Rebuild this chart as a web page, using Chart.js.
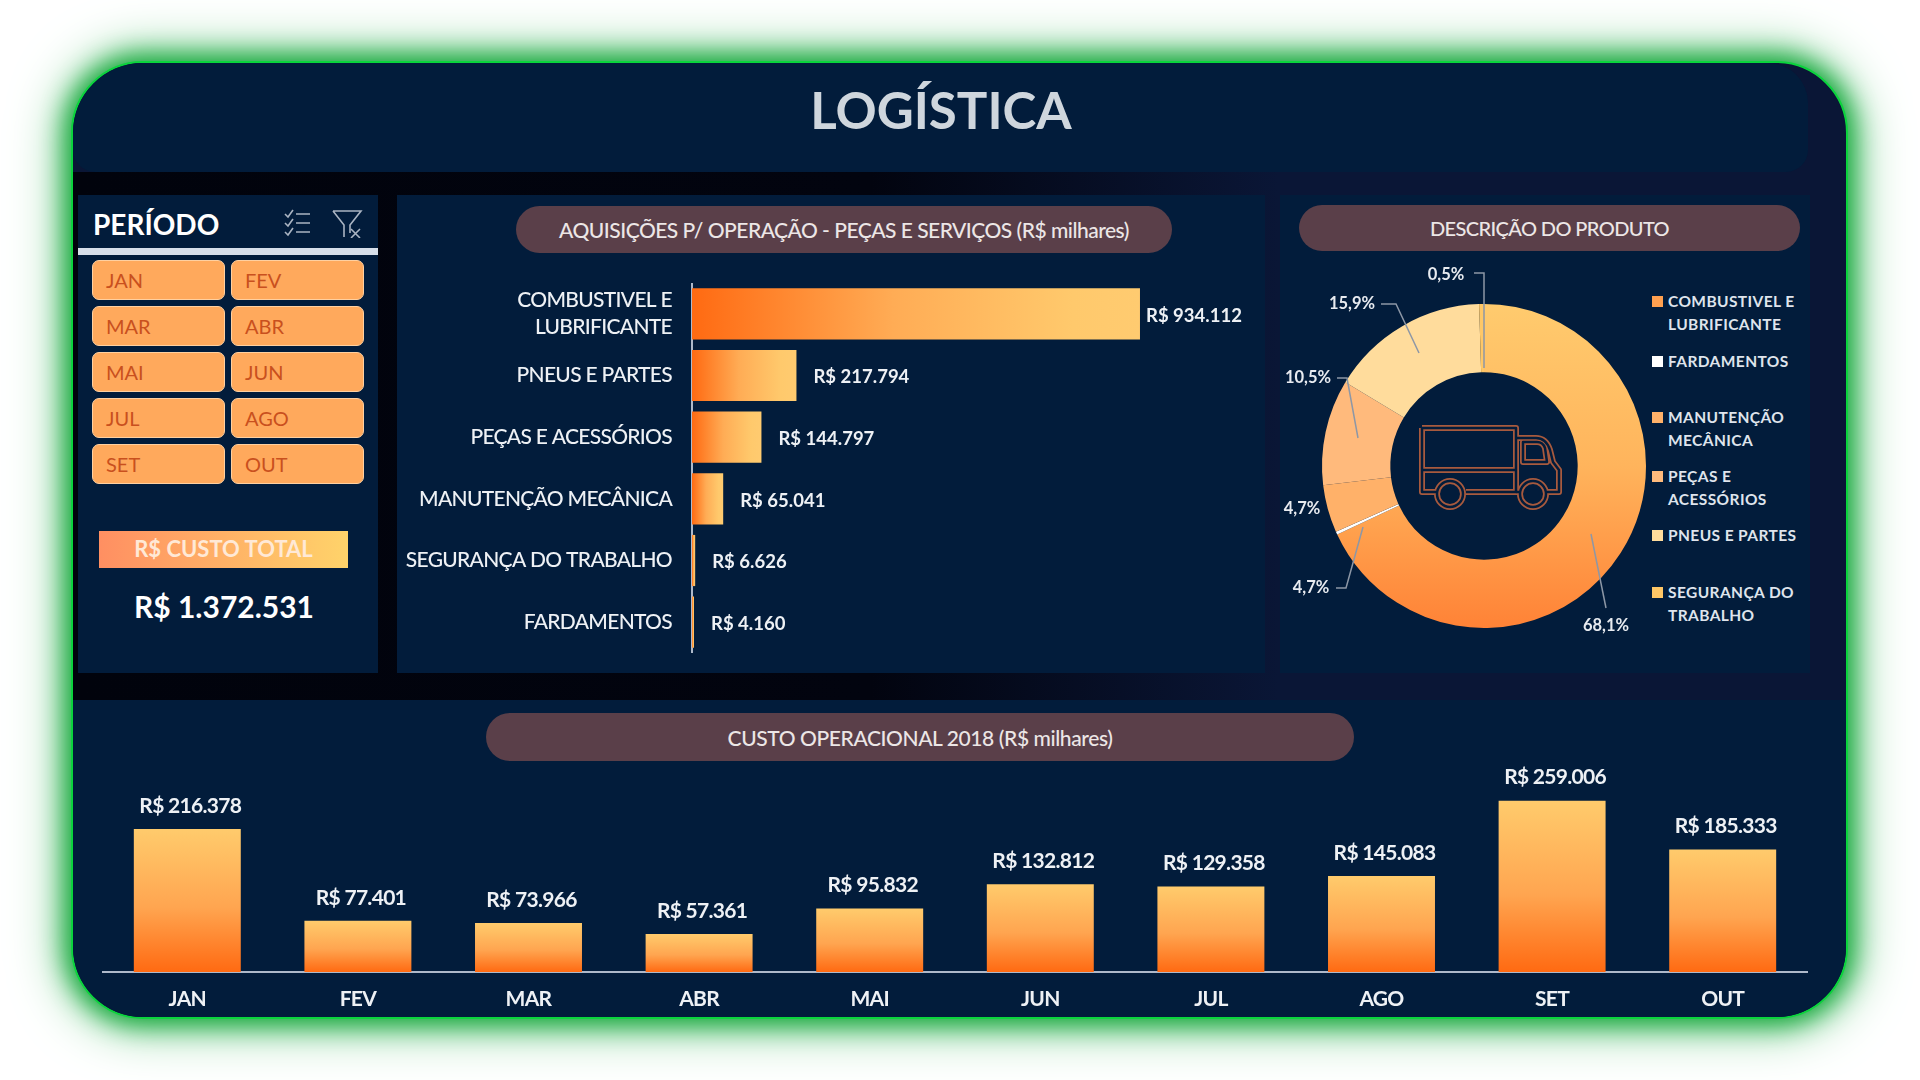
<!DOCTYPE html>
<html lang="pt-BR">
<head>
<meta charset="utf-8">
<title>Logística</title>
<script src="https://cdn.jsdelivr.net/npm/chart.js@4"></script>
<style>
html, body { margin: 0; padding: 0; background: #fff; }
body { width: 1920px; height: 1080px; position: relative; overflow: hidden; font-family: Lato, sans-serif; }
.abs { position: absolute; }
#frame {
    left: 71px; top: 61px; width: 1777px; height: 958px; box-sizing: border-box;
    border: 2px solid #0bd43c; border-radius: 72px; overflow: hidden; background: #0a1636;
    box-shadow: 0 0 24px 6px #14a83a, 0 0 50px 10px #7ccf93;
}
.panel { position: absolute; background: #021c3b; }
.pill {
    position: absolute; background: #5a3f49; border-radius: 24px; color: #ece6e6;
    display: flex; align-items: center; justify-content: center; font-size: 21px; font-weight: 500;
}
.btn {
    position: absolute; width: 133px; height: 40px; box-sizing: border-box; border-radius: 7px;
    background: #ffa95c; border: 1px solid #ffd0a0; color: #c9501e;
    font-size: 20px; line-height: 38px; padding-left: 13px;
}
canvas { position: absolute; display: block; }
.leg { position: absolute; color: #dfe4ec; font-size: 15.5px; font-weight: 700; line-height: 23px; letter-spacing: .4px; }
.mark { position: absolute; width: 11px; height: 11px; }
</style>
</head>
<body>
<div id="frame" class="abs"></div>

<!-- painéis de fundo -->
<div class="abs" style="left:73px;top:172px;width:1773px;height:528px;background:linear-gradient(90deg,#01030c,#02040f 45%,#0a1636 68%)"></div>
<div class="abs" style="left:73px;top:63px;width:1735px;height:109px;background:#021c3b;border-radius:70px 40px 22px 22px"></div>
<div class="abs" style="left:73px;top:700px;width:1773px;height:317px;background:#021c3b;border-radius:0 0 70px 70px"></div>
<div class="panel" style="left:78px;top:195px;width:300px;height:478px"></div>
<div class="panel" style="left:397px;top:195px;width:868px;height:478px"></div>
<div class="panel" style="left:1280px;top:195px;width:530px;height:478px"></div>

<div class="abs" style="left:0;width:1882px;top:81px;text-align:center;font-size:51px;font-weight:700;color:#cfd6dd;line-height:58px">LOGÍSTICA</div>

<!-- filtro de período -->
<div class="abs" style="left:93px;top:205px;font-size:28px;font-weight:700;color:#fff;line-height:38px">PERÍODO</div>
<svg class="abs" style="left:284px;top:208px" width="80" height="30" fill="none" stroke="#aab4c2" stroke-width="1.6">
    <path d="M1 6l3 3 5-7M1 15l3 3 5-7M1 24l3 3 5-7M12 6h14M12 15h14M12 24h14"/>
    <path d="M49 3h28l-11 14v8M49 3l11 14v12"/>
    <path d="M67 21l9 9M76 21l-9 9"/>
</svg>
<div class="abs" style="left:78px;top:248px;width:300px;height:7px;background:#d7dfea"></div>
<div id="buttons"></div>
<div class="abs" style="left:99px;top:531px;width:249px;height:37px;background:linear-gradient(90deg,#ff8f62,#ffd36a);color:#ffe9d6;font-size:22px;font-weight:700;text-align:center;line-height:36px">R$ CUSTO TOTAL</div>
<div class="abs" style="left:78px;top:588px;width:292px;text-align:center;color:#fff;font-size:30px;font-weight:700;line-height:36px">R$ 1.372.531</div>

<div class="pill" style="left:516px;top:206px;width:656px;height:47px;letter-spacing:-.5px">AQUISIÇÕES P/ OPERAÇÃO - PEÇAS E SERVIÇOS (R$ milhares)</div>
<div class="pill" style="left:1299px;top:205px;width:501px;height:46px;font-size:20px;letter-spacing:-.6px">DESCRIÇÃO DO PRODUTO</div>
<div class="pill" style="left:486px;top:713px;width:868px;height:48px;letter-spacing:-.4px">CUSTO OPERACIONAL 2018 (R$ milhares)</div>

<canvas id="aquisicoes" style="left:397px;top:283px;width:868px;height:370px"></canvas>
<canvas id="produto" style="left:1270px;top:260px;width:380px;height:400px"></canvas>
<canvas id="custo" style="left:102px;top:765px;width:1706px;height:250px"></canvas>

<!-- caminhão no centro da rosca -->
<svg class="abs" style="left:1414px;top:420px" width="156" height="100" fill="none" stroke-linejoin="round">
    <defs>
        <g id="truck">
            <path d="M8 8h94v64h-50M8 8v64h14M8 50h94"/>
            <path d="M102 18h20q10 0 14 12l3 12 6 8v22h-12M102 72h3"/>
            <path d="M109 22h14q6 0 8 6l2 14h-24z"/>
            <circle cx="36" cy="74" r="13"/>
            <circle cx="119" cy="74" r="13"/>
        </g>
    </defs>
    <use href="#truck" stroke="#a85a3e" stroke-width="6"/>
    <use href="#truck" stroke="#021c3b" stroke-width="2.5"/>
</svg>

<div id="legenda"></div>

<script>
const periodos = ['JAN', 'FEV', 'MAR', 'ABR', 'MAI', 'JUN', 'JUL', 'AGO', 'SET', 'OUT'];
const custoMensal = [216378, 77401, 73966, 57361, 95832, 132812, 129358, 145083, 259006, 185333];

const aquisicaoNomes = [['COMBUSTIVEL E', 'LUBRIFICANTE'], 'PNEUS E PARTES', 'PEÇAS E ACESSÓRIOS', 'MANUTENÇÃO MECÂNICA', 'SEGURANÇA DO TRABALHO', 'FARDAMENTOS'];
const aquisicaoValores = [934112, 217794, 144797, 65041, 6626, 4160];

const produtoNomes = [['COMBUSTIVEL E', 'LUBRIFICANTE'], ['FARDAMENTOS'], ['MANUTENÇÃO', 'MECÂNICA'], ['PEÇAS E', 'ACESSÓRIOS'], ['PNEUS E PARTES'], ['SEGURANÇA DO', 'TRABALHO']];
const produtoValores = [934112, 4160, 65041, 144797, 217794, 6626];
const produtoRotulos = ['68,1%', '4,7%', '4,7%', '10,5%', '15,9%', '0,5%'];
const produtoCores = ['#ffa050', '#ffffff', '#ffb169', '#ffba7c', '#ffdc9c', '#ffc766'];

// posição das legendas e das linhas de chamada (relativas ao centro da rosca)
const legendaY = [290, 350, 406, 465, 524, 581];
const chamadas = [
    { txt: [122, 160], pts: [[107, 68], [122, 142]] },
    { txt: [-173, 122], pts: [[-121, 61], [-138, 122], [-148, 122]] },
    { txt: [-182, 43], pts: [] },
    { txt: [-176, -88], pts: [[-126, -28], [-137, -88], [-147, -88]] },
    { txt: [-132, -162], pts: [[-65, -113], [-88, -162], [-103, -162]] },
    { txt: [-38, -191], pts: [[0, -98], [0, -193], [-10, -193]] }
];

const moeda = v => 'R$ ' + v.toLocaleString('pt-BR');

// botões
const colX = [92, 231];
periodos.forEach((p, i) => {
    const b = document.createElement('div');
    b.className = 'btn';
    b.textContent = p;
    b.style.left = colX[i % 2] + 'px';
    b.style.top = (260 + 46 * Math.floor(i / 2)) + 'px';
    document.getElementById('buttons').appendChild(b);
});

// legenda da rosca
produtoNomes.forEach((nome, i) => {
    const m = document.createElement('div');
    m.className = 'mark';
    m.style.left = '1652px';
    m.style.top = (legendaY[i] + 6) + 'px';
    m.style.background = produtoCores[i];
    document.getElementById('legenda').appendChild(m);
    const t = document.createElement('div');
    t.className = 'leg';
    t.style.left = '1668px';
    t.style.top = legendaY[i] + 'px';
    t.innerHTML = nome.join('<br>');
    document.getElementById('legenda').appendChild(t);
});

Chart.defaults.animation = false;
Chart.defaults.responsive = false;
Chart.defaults.devicePixelRatio = 1;
Chart.defaults.font.family = 'Lato, sans-serif';

function setSize(id) {
    const c = document.getElementById(id);
    c.width = parseInt(c.style.width);
    c.height = parseInt(c.style.height);
    return c;
}

function barGradient(ctx) {
    const area = ctx.chart.chartArea;
    if (!area) return '#ffa050';
    const g = ctx.chart.ctx;
    if (ctx.chart.options.indexAxis === 'y') {
        const w = ctx.parsed.x * ctx.chart.scales.x.width / ctx.chart.scales.x.max;
        const grad = g.createLinearGradient(area.left, 0, area.left + w, 0);
        grad.addColorStop(0, '#ff6a12');
        grad.addColorStop(0.45, '#ffac55');
        grad.addColorStop(0.85, '#ffc96c');
        grad.addColorStop(1, '#ffcb70');
        return grad;
    }
    const top = ctx.chart.scales.y.getPixelForValue(ctx.parsed.y);
    const grad = g.createLinearGradient(0, area.bottom, 0, top);
    grad.addColorStop(0, '#ff6a12');
    grad.addColorStop(0.45, '#ffa550');
    grad.addColorStop(1, '#ffcb6c');
    return grad;
}

// fonte do original é mais estreita que a Lato
const apertaTexto = {
    id: 'apertaTexto',
    beforeDraw(chart) { chart.ctx.letterSpacing = '-0.7px'; }
};

const rotulosBarra = {
    id: 'rotulosBarra',
    afterDatasetsDraw(chart) {
        const g = chart.ctx;
        const horizontal = chart.options.indexAxis === 'y';
        const valores = chart.data.datasets[0].data;
        g.save();
        g.fillStyle = '#eef1f5';
        chart.getDatasetMeta(0).data.forEach((bar, i) => {
            const txt = moeda(valores[i]);
            g.textBaseline = 'middle';
            if (horizontal) {
                g.letterSpacing = '0px';
                g.font = '700 18.5px Lato, sans-serif';
                g.textAlign = 'left';
                g.fillText(txt, bar.x + (i === 0 ? 6 : 17), bar.y + 2);
            } else {
                g.letterSpacing = '-0.7px';
                g.font = '700 21px Lato, sans-serif';
                g.textAlign = 'center';
                g.fillText(txt, bar.x + 3, bar.y - 23);
            }
        });
        g.restore();
    }
};

new Chart(setSize('aquisicoes'), {
    type: 'bar',
    data: {
        labels: aquisicaoNomes,
        datasets: [{ data: aquisicaoValores, backgroundColor: barGradient, barPercentage: 0.83, categoryPercentage: 1 }]
    },
    options: {
        indexAxis: 'y',
        layout: { padding: 0 },
        plugins: { legend: { display: false }, tooltip: { enabled: false } },
        scales: {
            x: { display: false, min: 0, max: 1194800 },
            y: {
                afterFit(axis) {
                    axis.width = 295;
                    axis.paddingTop = 0;
                    axis.paddingBottom = 0;
                },
                grid: { display: false, drawTicks: false },
                border: { color: '#aeb9ca', width: 2 },
                ticks: { color: '#eef1f5', font: { size: 21, weight: '500', lineHeight: 1.3 }, padding: 20 }
            }
        }
    },
    plugins: [apertaTexto, rotulosBarra]
});

new Chart(setSize('custo'), {
    type: 'bar',
    data: {
        labels: periodos,
        datasets: [{ data: custoMensal, backgroundColor: barGradient, barPercentage: 0.627, categoryPercentage: 1 }]
    },
    options: {
        layout: { padding: 0 },
        plugins: { legend: { display: false }, tooltip: { enabled: false } },
        scales: {
            y: { display: false, min: 0, max: 313000 },
            x: {
                afterFit(axis) { axis.height = 43; },
                grid: { display: false, drawTicks: false },
                border: { color: '#aeb9ca', width: 2 },
                ticks: { color: '#eef1f5', font: { size: 21, weight: '700' }, padding: 15 }
            }
        }
    },
    plugins: [apertaTexto, rotulosBarra]
});

const chamadasPlugin = {
    id: 'chamadas',
    afterDatasetsDraw(chart) {
        const g = chart.ctx;
        const arc = chart.getDatasetMeta(0).data[0];
        g.save();
        g.strokeStyle = '#8d97a6';
        g.lineWidth = 1.5;
        g.fillStyle = '#e8ebf0';
        g.font = '700 16.5px Lato, sans-serif';
        g.textBaseline = 'middle';
        g.textAlign = 'center';
        chamadas.forEach((c, i) => {
            if (c.pts.length) {
                g.beginPath();
                c.pts.forEach((p, k) => {
                    if (k === 0) g.moveTo(arc.x + p[0], arc.y + p[1]);
                    else g.lineTo(arc.x + p[0], arc.y + p[1]);
                });
                g.stroke();
            }
            g.fillText(produtoRotulos[i], arc.x + c.txt[0], arc.y + c.txt[1]);
        });
        g.restore();
    }
};

function fatiaCor(ctx) {
    const i = ctx.dataIndex;
    if (i !== 0) return produtoCores[i];
    const area = ctx.chart.chartArea;
    if (!area) return produtoCores[0];
    const cy = (area.top + area.bottom) / 2;
    const grad = ctx.chart.ctx.createLinearGradient(0, cy - 163, 0, cy + 163);
    grad.addColorStop(0, '#ffcb6e');
    grad.addColorStop(0.5, '#ffb45c');
    grad.addColorStop(1, '#ff8236');
    return grad;
}

// rosca: centro em (1484, 466), raio externo 162
new Chart(setSize('produto'), {
    type: 'doughnut',
    data: {
        labels: produtoNomes,
        datasets: [{ data: produtoValores, backgroundColor: fatiaCor, borderWidth: 0, radius: 162, cutout: 96 }]
    },
    options: {
        layout: { padding: { left: 48, right: 0, top: 12, bottom: 0 } },
        plugins: { legend: { display: false }, tooltip: { enabled: false } }
    },
    plugins: [chamadasPlugin]
});
</script>
</body>
</html>
